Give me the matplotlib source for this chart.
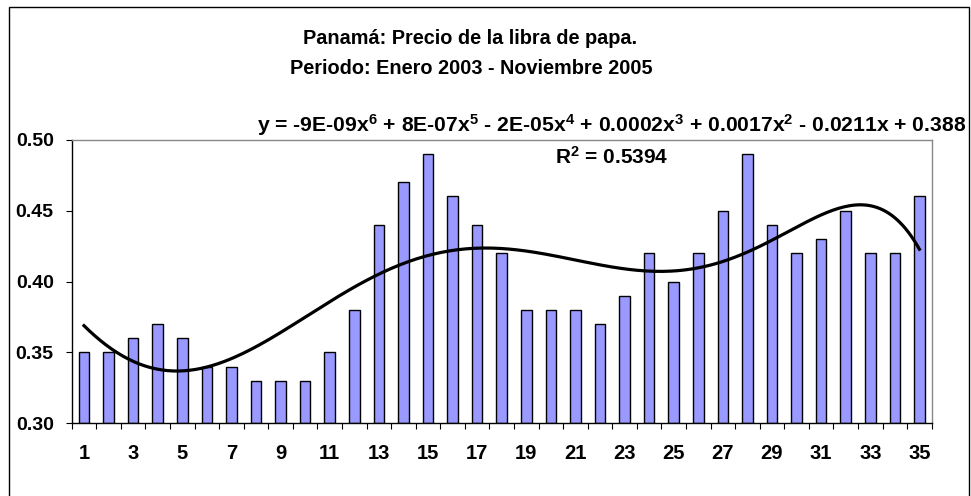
import numpy as np
import matplotlib
matplotlib.use("Agg")
import matplotlib.pyplot as plt
from matplotlib.patches import Rectangle

plt.rcParams['font.family'] = ['Liberation Sans', 'DejaVu Sans']
plt.rcParams['font.weight'] = 'bold'
plt.rcParams['mathtext.default'] = 'regular'

months = list(range(1, 36))
prices = [0.35, 0.35, 0.36, 0.37, 0.36, 0.34, 0.34, 0.33, 0.33, 0.33,
          0.35, 0.38, 0.44, 0.47, 0.49, 0.46, 0.44, 0.42, 0.38, 0.38,
          0.38, 0.37, 0.39, 0.42, 0.40, 0.42, 0.45, 0.49, 0.44, 0.42,
          0.43, 0.45, 0.42, 0.42, 0.46]
x_tick_labels = [str(m) for m in months if m % 2 == 1]
y_ticks = [0.30, 0.35, 0.40, 0.45, 0.50]

title_1 = "Panamá: Precio de la libra de papa."
title_2 = "Periodo: Enero 2003 - Noviembre 2005"
equation = ("y = -9E-09x$^{6}$ + 8E-07x$^{5}$ - 2E-05x$^{4}$ + 0.0002x$^{3}$"
            " + 0.0017x$^{2}$ - 0.0211x + 0.388")
r2_text = "R$^{2}$ = 0.5394"

W, H = 971, 496
fig = plt.figure(figsize=(W / 100, H / 100), dpi=100)

def fx(px):
    return px / W

def fy(py):
    return 1 - py / H

left, right, top, bottom = 71.7, 931.7, 139.7, 423.3
ax = fig.add_axes([fx(left), fy(bottom), fx(right - left), (bottom - top) / H])

x = np.array(months, dtype=float)
y = np.array(prices)
ax.bar(x, y - 0.30, bottom=0.30, width=0.43, color='#9999FF',
       edgecolor='black', linewidth=1.0, zorder=2)

coef = np.polyfit(x, y, 6)
xs = np.linspace(1, 35, 300)
ax.plot(xs, np.polyval(coef, xs), color='black', linewidth=2.3, zorder=3)

ax.set_xlim(0.5, 35.5)
ax.set_ylim(0.30, 0.50)
ax.set_yticks(y_ticks)
ax.set_yticklabels([f"{v:.2f}" for v in y_ticks])
ax.set_xticks([m for m in months if m % 2 == 1])
ax.set_xticklabels(x_tick_labels)
ax.set_xticks(np.arange(0.5, 36, 1), minor=True)
ax.tick_params(axis='x', which='major', length=0, pad=15, labelsize=14.5)
ax.tick_params(axis='x', which='minor', length=4.5, width=0.8, direction='out')
ax.tick_params(axis='y', which='major', length=4.5, width=0.8, pad=8.5, labelsize=14)
for lab in ax.get_xticklabels() + ax.get_yticklabels():
    lab.set_fontweight('bold')

ax.spines['left'].set_color('black')
ax.spines['bottom'].set_color('black')
ax.spines['top'].set_color('#888888')
ax.spines['right'].set_color('#888888')
for s in ax.spines.values():
    s.set_linewidth(1.0)

fig.text(fx(470), fy(38), title_1, ha='center', va='center', fontsize=14.3, fontweight='bold')
fig.text(fx(471), fy(68), title_2, ha='center', va='center', fontsize=14.3, fontweight='bold')
fig.text(fx(966), fy(125), equation, ha='right', va='center', fontsize=15.2, fontweight='bold')
fig.text(fx(612), fy(157), r2_text, ha='center', va='center', fontsize=15, fontweight='bold')

fig.patches.append(Rectangle((fx(9), fy(500)), fx(969 - 9), (500 - 7) / H,
                             transform=fig.transFigure, fill=False,
                             edgecolor='black', linewidth=1.0))

fig.savefig("out.png", dpi=100)
